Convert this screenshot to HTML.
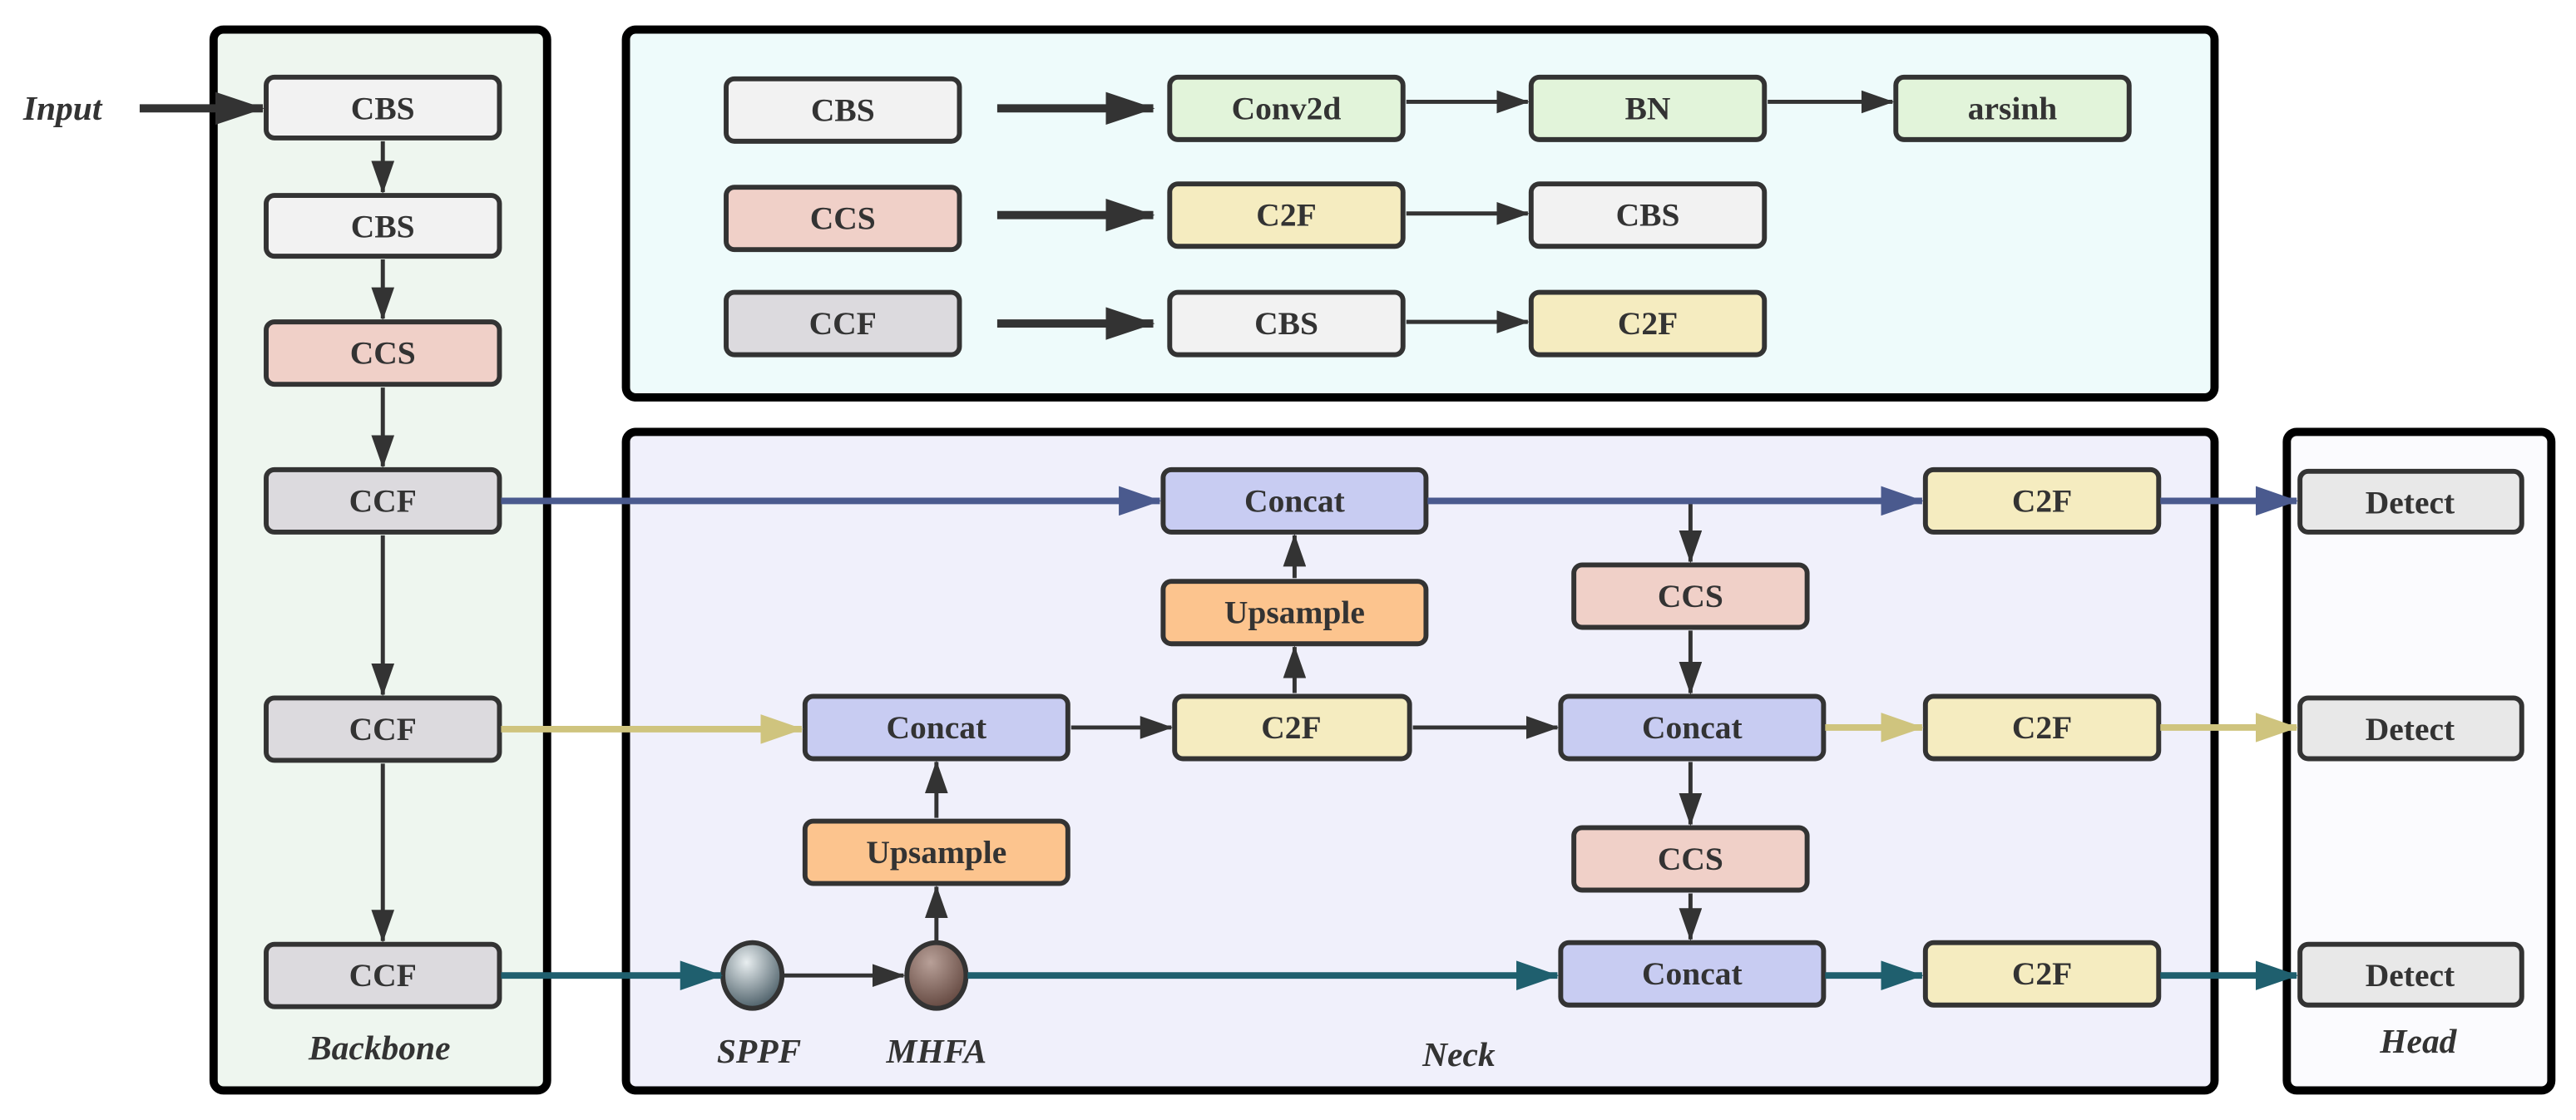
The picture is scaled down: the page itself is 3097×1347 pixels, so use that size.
<!DOCTYPE html>
<html><head><meta charset="utf-8"><style>
html,body{margin:0;padding:0;background:#fff;}
svg{display:block;}
text{font-family:"Liberation Serif",serif;font-weight:bold;fill:#333;}
.n{font-size:20px;text-anchor:middle;dominant-baseline:central;}
.l{font-size:21px;font-style:italic;text-anchor:middle;}
</style></head><body>
<svg width="3097" height="1347" viewBox="0 0 1568 682" xmlns="http://www.w3.org/2000/svg">
<defs>
<marker id="ak" markerWidth="20" markerHeight="14" refX="19" refY="7" orient="auto" markerUnits="userSpaceOnUse"><path d="M0,0 L20,7 L0,14 z" fill="#333"/></marker>
<marker id="akb" markerWidth="30" markerHeight="20" refX="29" refY="10" orient="auto" markerUnits="userSpaceOnUse"><path d="M0,0 L30,10 L0,20 z" fill="#333"/></marker>
<marker id="ab" markerWidth="26" markerHeight="18" refX="25" refY="9" orient="auto" markerUnits="userSpaceOnUse"><path d="M0,0 L26,9 L0,18 z" fill="#4a5a8e"/></marker>
<marker id="ay" markerWidth="26" markerHeight="18" refX="25" refY="9" orient="auto" markerUnits="userSpaceOnUse"><path d="M0,0 L26,9 L0,18 z" fill="#cfc47e"/></marker>
<marker id="at" markerWidth="26" markerHeight="18" refX="25" refY="9" orient="auto" markerUnits="userSpaceOnUse"><path d="M0,0 L26,9 L0,18 z" fill="#1f5f6e"/></marker>
<radialGradient id="g1" cx="0.4" cy="0.3" r="0.8"><stop offset="0" stop-color="#e8eef0"/><stop offset="1" stop-color="#3a4e58"/></radialGradient>
<radialGradient id="g2" cx="0.4" cy="0.3" r="0.8"><stop offset="0" stop-color="#b8a098"/><stop offset="1" stop-color="#5a3e36"/></radialGradient>
</defs>
<rect x="130" y="18" width="203" height="646" rx="6" fill="#eef6ef" stroke="#000" stroke-width="5"/>
<rect x="381" y="18" width="967" height="224" rx="6" fill="#eefbfb" stroke="#000" stroke-width="5"/>
<rect x="381" y="263" width="967" height="401" rx="6" fill="#f0f0fb" stroke="#000" stroke-width="5"/>
<rect x="1392" y="263" width="161" height="401" rx="6" fill="#fbfbfe" stroke="#000" stroke-width="5"/>
<g stroke="#333" stroke-width="3">
<rect x="162" y="47" width="142" height="37" rx="5" fill="#f2f2f2"/>
<rect x="162" y="119" width="142" height="37" rx="5" fill="#f2f2f2"/>
<rect x="162" y="196" width="142" height="38" rx="5" fill="#f0d0c8"/>
<rect x="162" y="286" width="142" height="38" rx="5" fill="#dcdade"/>
<rect x="162" y="425" width="142" height="38" rx="5" fill="#dcdade"/>
<rect x="162" y="575" width="142" height="38" rx="5" fill="#dcdade"/>
<rect x="442" y="48" width="142" height="38" rx="5" fill="#f2f2f2"/>
<rect x="712" y="47" width="142" height="38" rx="5" fill="#e2f4da"/>
<rect x="932" y="47" width="142" height="38" rx="5" fill="#e2f4da"/>
<rect x="1154" y="47" width="142" height="38" rx="5" fill="#e2f4da"/>
<rect x="442" y="114" width="142" height="38" rx="5" fill="#f0d0c8"/>
<rect x="712" y="112" width="142" height="38" rx="5" fill="#f5ecc0"/>
<rect x="932" y="112" width="142" height="38" rx="5" fill="#f2f2f2"/>
<rect x="442" y="178" width="142" height="38" rx="5" fill="#dcdade"/>
<rect x="712" y="178" width="142" height="38" rx="5" fill="#f2f2f2"/>
<rect x="932" y="178" width="142" height="38" rx="5" fill="#f5ecc0"/>
<rect x="708" y="286" width="160" height="38" rx="5" fill="#c8ccf2"/>
<rect x="708" y="354" width="160" height="38" rx="5" fill="#fcc48e"/>
<rect x="715" y="424" width="143" height="38" rx="5" fill="#f5ecc0"/>
<rect x="490" y="424" width="160" height="38" rx="5" fill="#c8ccf2"/>
<rect x="490" y="500" width="160" height="38" rx="5" fill="#fcc48e"/>
<rect x="958" y="344" width="142" height="38" rx="5" fill="#f0d0c8"/>
<rect x="950" y="424" width="160" height="38" rx="5" fill="#c8ccf2"/>
<rect x="958" y="504" width="142" height="38" rx="5" fill="#f0d0c8"/>
<rect x="950" y="574" width="160" height="38" rx="5" fill="#c8ccf2"/>
<rect x="1172" y="286" width="142" height="38" rx="5" fill="#f5ecc0"/>
<rect x="1172" y="424" width="142" height="38" rx="5" fill="#f5ecc0"/>
<rect x="1172" y="574" width="142" height="38" rx="5" fill="#f5ecc0"/>
<rect x="1400" y="287" width="135" height="37" rx="5" fill="#e8e8e8"/>
<rect x="1400" y="425" width="135" height="37" rx="5" fill="#e8e8e8"/>
<rect x="1400" y="575" width="135" height="37" rx="5" fill="#e8e8e8"/>
<ellipse cx="458" cy="594" rx="18" ry="20" fill="url(#g1)"/>
<ellipse cx="570" cy="594" rx="18" ry="20" fill="url(#g2)"/>
</g>
<g fill="none">
<line x1="85" y1="66" x2="160" y2="66" stroke="#333" stroke-width="5" marker-end="url(#akb)"/>
<g stroke="#333" stroke-width="2.5" marker-end="url(#ak)">
<line x1="233" y1="86" x2="233" y2="117"/>
<line x1="233" y1="158" x2="233" y2="194"/>
<line x1="233" y1="236" x2="233" y2="284"/>
<line x1="233" y1="326" x2="233" y2="423"/>
<line x1="233" y1="465" x2="233" y2="573"/>
<line x1="856" y1="62" x2="930" y2="62"/>
<line x1="1076" y1="62" x2="1152" y2="62"/>
<line x1="856" y1="130" x2="930" y2="130"/>
<line x1="856" y1="196" x2="930" y2="196"/>
<line x1="788" y1="422" x2="788" y2="394"/>
<line x1="788" y1="352" x2="788" y2="326"/>
<line x1="570" y1="498" x2="570" y2="464"/>
<line x1="570" y1="574" x2="570" y2="540"/>
<line x1="652" y1="443" x2="713" y2="443"/>
<line x1="860" y1="443" x2="948" y2="443"/>
<line x1="1029" y1="305" x2="1029" y2="342"/>
<line x1="1029" y1="384" x2="1029" y2="422"/>
<line x1="1029" y1="464" x2="1029" y2="502"/>
<line x1="1029" y1="544" x2="1029" y2="572"/>
<line x1="477" y1="594" x2="550" y2="594"/>
</g>
<g stroke="#333" stroke-width="5" marker-end="url(#akb)">
<line x1="607" y1="66" x2="702" y2="66"/>
<line x1="607" y1="131" x2="702" y2="131"/>
<line x1="607" y1="197" x2="702" y2="197"/>
</g>
<g stroke="#4a5a8e" stroke-width="4" marker-end="url(#ab)">
<line x1="305" y1="305" x2="706" y2="305"/>
<line x1="869" y1="305" x2="1170" y2="305"/>
<line x1="1315" y1="305" x2="1398" y2="305"/>
</g>
<g stroke="#cfc47e" stroke-width="4" marker-end="url(#ay)">
<line x1="305" y1="444" x2="488" y2="444"/>
<line x1="1111" y1="443" x2="1170" y2="443"/>
<line x1="1315" y1="443" x2="1398" y2="443"/>
</g>
<g stroke="#1f5f6e" stroke-width="4" marker-end="url(#at)">
<line x1="305" y1="594" x2="439" y2="594"/>
<line x1="589" y1="594" x2="948" y2="594"/>
<line x1="1111" y1="594" x2="1170" y2="594"/>
<line x1="1315" y1="594" x2="1398" y2="594"/>
</g>
</g>
<text class="n" x="233" y="66">CBS</text>
<text class="n" x="233" y="138">CBS</text>
<text class="n" x="233" y="215">CCS</text>
<text class="n" x="233" y="305">CCF</text>
<text class="n" x="233" y="444">CCF</text>
<text class="n" x="233" y="594">CCF</text>
<text class="n" x="513" y="67">CBS</text>
<text class="n" x="783" y="66">Conv2d</text>
<text class="n" x="1003" y="66">BN</text>
<text class="n" x="1225" y="66">arsinh</text>
<text class="n" x="513" y="133">CCS</text>
<text class="n" x="783" y="131">C2F</text>
<text class="n" x="1003" y="131">CBS</text>
<text class="n" x="513" y="197">CCF</text>
<text class="n" x="783" y="197">CBS</text>
<text class="n" x="1003" y="197">C2F</text>
<text class="n" x="788" y="305">Concat</text>
<text class="n" x="788" y="373">Upsample</text>
<text class="n" x="786" y="443">C2F</text>
<text class="n" x="570" y="443">Concat</text>
<text class="n" x="570" y="519">Upsample</text>
<text class="n" x="1029" y="363">CCS</text>
<text class="n" x="1030" y="443">Concat</text>
<text class="n" x="1029" y="523">CCS</text>
<text class="n" x="1030" y="593">Concat</text>
<text class="n" x="1243" y="305">C2F</text>
<text class="n" x="1243" y="443">C2F</text>
<text class="n" x="1243" y="593">C2F</text>
<text class="n" x="1467" y="306">Detect</text>
<text class="n" x="1467" y="444">Detect</text>
<text class="n" x="1467" y="594">Detect</text>
<text class="l" x="38" y="73">Input</text>
<text class="l" x="231" y="645">Backbone</text>
<text class="l" x="462" y="647">SPPF</text>
<text class="l" x="570" y="647">MHFA</text>
<text class="l" x="888" y="649">Neck</text>
<text class="l" x="1472" y="641">Head</text>
</svg>
</body></html>
